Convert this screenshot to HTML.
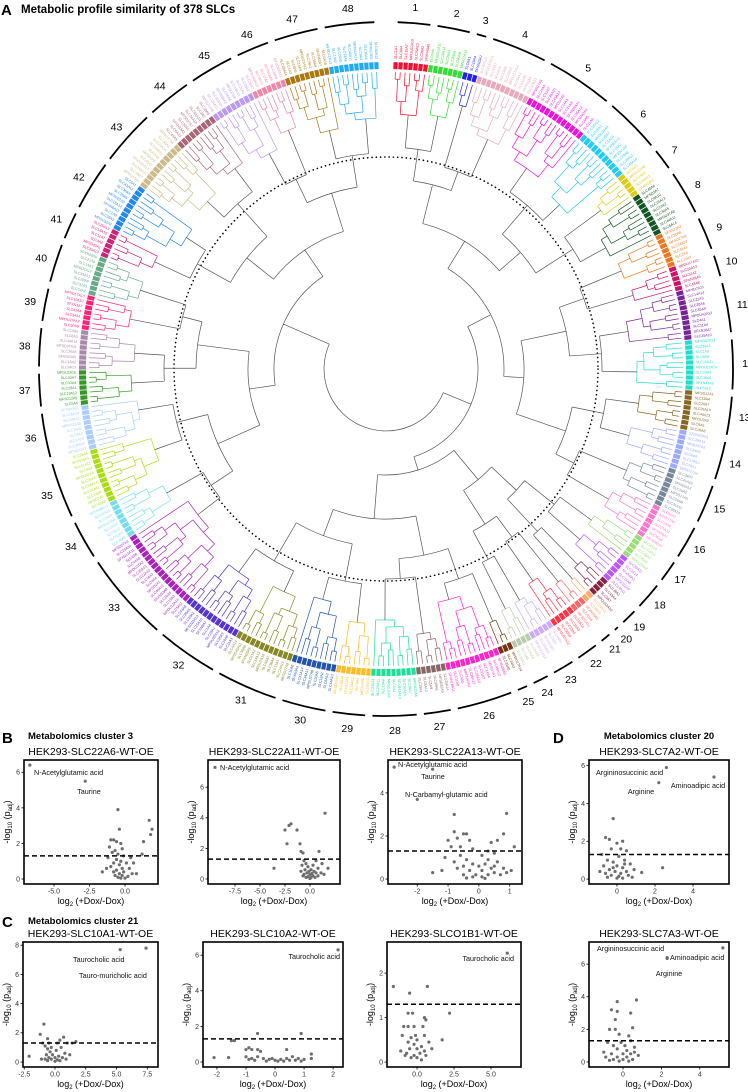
<!DOCTYPE html>
<html><head><meta charset="utf-8"><style>
html,body{margin:0;padding:0;background:#fff;}
svg{display:block;font-family:"Liberation Sans",Arial,sans-serif;}
</style></head><body>
<svg id="chart" xmlns="http://www.w3.org/2000/svg" width="748" height="1092" viewBox="0 0 748 1092">
<text x="1" y="15" font-size="15" font-weight="bold">A</text>
<text x="21" y="13" font-size="11.5" font-weight="bold">Metabolic profile similarity of 378 SLCs</text>
<g id="dendro"></g>
<text x="2" y="743" font-size="15" font-weight="bold">B</text>
<text x="28" y="739" font-size="9.5" font-weight="bold">Metabolomics cluster 3</text>
<text x="2" y="927" font-size="15" font-weight="bold">C</text>
<text x="28" y="924" font-size="9.5" font-weight="bold">Metabolomics cluster 21</text>
<text x="553" y="743" font-size="15" font-weight="bold">D</text>
<text x="659" y="739" font-size="9.5" font-weight="bold" text-anchor="middle">Metabolomics cluster 20</text>
<g id="plots"></g>
</svg>
<script>
// ---------- Dendrogram data ----------
const clusterSizes=[7,7,3,11,13,11,5,9,7,5,10,10,8,8,8,7,5,6,4,2,3,5,5,4,3,11,6,9,7,9,12,12,17,8,11,9,7,8,7,8,6,10,11,9,9,7,9,10];
const clusterColors=["#ee1133","#33dd33","#2222ee","#e8aabb","#ee11dd","#22ccee","#ddcc11","#115522","#ee7722","#cc1166","#772299","#22ddcc","#886622","#99aaff","#778899","#ff77cc","#99dd77","#bb55ff","#882244","#ffaa66","#ff6666","#ff3344","#ccaaff","#bbccaa","#773311","#ff22cc","#886666","#22dd99","#ffbb22","#2255aa","#888822","#5533cc","#aa22bb","#77ddee","#aadd11","#aaccff","#339922","#aa88aa","#ff2277","#66aa88","#cc2277","#2288ee","#ccbb88","#aa6677","#bb99ee","#ee88aa","#aa7711","#22aaee"];
const clusterLabels=clusterSizes.map((s,i)=>String(i+1));

// ---------- Volcano data ----------
const b1Points=[[-6.7,6.4],[-2.8,5.5],[-0.5,3.9],[-0.4,2.8],[1.7,3.3],[1.9,2.8],[1.8,2.5],[1.3,2.1],[1.2,1.4],[-1.0,2.2],[-0.8,2.2],[-0.6,2.1],[-0.3,2.0],[-1.1,1.8],[-0.7,1.6],[-0.2,1.7],[-0.9,1.5],[-0.5,1.4],[-0.1,1.3],[-1.2,1.2],[-0.6,1.1],[-0.3,1.0],[-0.8,0.9],[0.1,0.9],[-0.4,0.8],[-1.0,0.7],[-0.2,0.6],[0.3,0.6],[-0.6,0.5],[-0.1,0.4],[-0.8,0.4],[0.5,0.3],[-0.4,0.3],[-1.6,0.4],[-0.2,0.2],[0.2,0.15],[-0.5,0.1],[0.0,0.05],[-0.3,0.05],[0.8,0.3],[0.6,0.9],[-1.3,0.6],[-0.7,0.2],[0.4,1.2]];
const b2Points=[[-9.5,7.3],[1.5,4.3],[-2.5,3.2],[-2.1,3.5],[-1.9,3.6],[-1.3,3.2],[-2.3,2.3],[-1.0,2.3],[-0.9,1.8],[-0.7,1.7],[0.9,1.8],[-3.6,0.7],[-0.6,1.2],[0.6,1.2],[1.2,1.0],[-0.4,1.0],[-0.8,0.9],[0.3,0.9],[-0.2,0.8],[0.8,0.7],[-0.5,0.6],[0.1,0.6],[1.8,0.7],[-0.9,0.5],[0.4,0.5],[-0.3,0.4],[0.6,0.4],[1.1,0.4],[-0.6,0.3],[0.0,0.3],[0.3,0.2],[-0.2,0.15],[0.1,0.1],[-0.4,0.1],[0.5,0.1],[0.0,0.03],[-0.1,0.5],[0.2,0.35],[-0.7,0.2],[0.8,0.2],[1.4,0.3]];
const b3Points=[[-2.75,5.2],[-1.5,5.1],[-2.0,3.7],[-0.8,3.0],[0.9,3.05],[-0.8,2.2],[-0.5,2.1],[-0.4,2.1],[0.8,2.1],[-0.7,1.9],[-0.3,1.8],[0.4,1.7],[0.6,1.8],[-1.0,1.8],[1.15,1.5],[-0.9,1.5],[-0.6,1.5],[-0.2,1.4],[0.3,1.3],[-1.1,1.0],[-0.6,1.1],[0.1,1.1],[0.5,1.2],[-0.4,0.9],[0.3,0.9],[-0.8,0.8],[-0.2,0.7],[0.2,0.7],[0.6,0.8],[-0.5,0.6],[0.0,0.6],[0.4,0.5],[0.8,0.5],[-1.2,0.4],[-0.7,0.5],[-0.3,0.4],[0.1,0.4],[0.5,0.3],[0.9,0.3],[-0.5,0.2],[-0.1,0.2],[0.3,0.2],[0.7,0.2],[1.05,0.4],[-0.2,0.1],[0.1,0.1],[-0.4,0.05],[0.2,0.03],[-1.5,0.3],[0.5,0.6]];
const d1Points=[[2.6,5.9],[5.1,5.4],[2.2,5.1],[-0.2,3.2],[-0.6,2.2],[-0.4,2.1],[0.3,2.0],[0.0,1.9],[0.2,1.6],[-0.3,1.6],[0.5,1.5],[-0.8,1.3],[0.1,1.2],[-0.5,1.0],[0.4,1.0],[-0.2,0.9],[0.7,0.8],[-0.7,0.7],[0.0,0.7],[0.3,0.6],[-0.4,0.5],[0.9,0.5],[2.4,0.6],[-0.1,0.4],[0.5,0.4],[-0.6,0.3],[0.2,0.3],[1.3,0.35],[-0.3,0.2],[0.1,0.15],[0.6,0.2],[-0.5,0.1],[0.0,0.05],[0.3,0.05],[-0.9,0.4],[0.8,0.1],[-0.2,0.6],[0.4,0.8]];
const c1Points=[[5.3,7.7],[7.4,7.8],[-0.9,2.6],[-1.2,1.9],[-0.6,1.6],[0.7,1.7],[0.4,1.5],[-1.0,1.3],[-0.5,1.3],[0.2,1.3],[1.0,1.3],[1.4,1.3],[1.7,1.4],[-0.8,1.1],[-0.3,1.0],[0.5,1.0],[-0.6,0.9],[0.1,0.8],[-2.1,0.4],[-0.4,0.7],[0.8,0.6],[-0.7,0.5],[-0.2,0.5],[0.3,0.4],[1.2,0.5],[-0.5,0.3],[0.0,0.3],[0.6,0.3],[-1.1,0.2],[-0.3,0.2],[0.2,0.15],[-0.6,0.1],[0.0,0.05],[0.9,0.2],[-0.8,0.2],[0.4,0.1]];
const c2Points=[[2.17,6.3],[-0.6,1.6],[0.9,1.6],[-1.5,1.2],[-1.4,1.2],[-1.0,0.7],[-0.8,0.7],[-0.6,0.7],[-0.5,0.6],[-0.9,0.8],[0.4,0.7],[-2.1,0.25],[-1.6,0.25],[1.25,0.45],[1.25,0.2],[-1.0,0.3],[-0.8,0.2],[-0.6,0.3],[-0.4,0.2],[-0.2,0.15],[0.0,0.1],[0.2,0.15],[0.4,0.2],[0.6,0.3],[0.8,0.2],[1.0,0.15],[-0.7,0.1],[-0.3,0.05],[0.1,0.05],[0.3,0.05],[0.5,0.1],[-0.9,0.15],[0.7,0.1],[-0.1,0.2],[0.9,0.05]];
const c3Points=[[6.1,2.45],[-1.6,1.7],[-0.5,1.55],[0.7,1.7],[2.2,1.1],[1.7,0.5],[-0.6,1.1],[-0.3,1.1],[0.5,1.0],[0.6,0.95],[-0.9,0.8],[-0.6,0.8],[-0.2,0.8],[0.4,0.8],[0.5,0.6],[-1.0,0.6],[-0.4,0.55],[0.0,0.5],[0.8,0.45],[-0.6,0.45],[-0.2,0.4],[0.3,0.35],[-1.1,0.25],[-0.5,0.3],[0.0,0.3],[0.5,0.25],[-0.7,0.2],[-0.2,0.15],[0.2,0.2],[0.6,0.15],[-0.4,0.1],[0.0,0.1],[0.3,0.05],[-0.8,0.15],[1.0,0.3],[-0.1,0.6]];
const d2Points=[[2.3,6.4],[2.3,6.35],[5.2,7.0],[0.7,3.8],[-0.3,3.7],[-0.6,3.2],[-0.3,3.1],[0.4,3.0],[-0.4,2.6],[-0.7,2.0],[-0.4,2.0],[0.5,2.1],[-0.2,1.7],[0.3,1.6],[0.4,1.3],[-0.8,1.2],[-0.5,1.0],[0.1,1.0],[0.6,0.9],[-1.0,0.6],[-0.3,0.8],[0.2,0.7],[-0.6,0.5],[0.0,0.5],[0.4,0.5],[-0.9,0.3],[-0.3,0.3],[0.2,0.3],[0.8,0.4],[-0.5,0.15],[0.0,0.15],[0.5,0.15],[-0.2,0.05],[0.3,0.05],[-0.7,0.1],[0.6,0.6],[-0.1,1.2]];
const b1XTicks=[-5,-2.5,0], b1XTickLabels=["-5.0","-2.5","0.0"], b1YTicks=[0,2,4,6];
const b2XTicks=[-7.5,-5,-2.5,0], b2XTickLabels=["-7.5","-5.0","-2.5","0.0"], b2YTicks=[0,2,4,6];
const b3XTicks=[-2,-1,0,1], b3XTickLabels=["-2","-1","0","1"], b3YTicks=[0,2,4];
const d1XTicks=[0,2,4], d1XTickLabels=["0","2","4"], d1YTicks=[0,2,4,6];
const c1XTicks=[-2.5,0,2.5,5,7.5], c1XTickLabels=["-2.5","0.0","2.5","5.0","7.5"], c1YTicks=[0,2,4,6,8];
const c2XTicks=[-2,-1,0,1,2], c2XTickLabels=["-2","-1","0","1","2"], c2YTicks=[0,2,4,6];
const c3XTicks=[0,2.5,5], c3XTickLabels=["0.0","2.5","5.0"], c3YTicks=[0,1,2];
const d2XTicks=[0,2,4], d2XTickLabels=["0","2","4"], d2YTicks=[0,2,4,6];
const sigThreshold=1.3;

const NS="http://www.w3.org/2000/svg";
function mk(tag,attrs,parent){const e=document.createElementNS(NS,tag);for(const k in attrs)e.setAttribute(k,attrs[k]);parent.appendChild(e);return e;}

// ---------- Draw dendrogram ----------
const dg=document.getElementById("dendro");
const CX=386,CY=369,RLEAF=297,RRING=303.5,RARC=347,RLAB=362,RDOT=212;
const N=clusterSizes.reduce((a,b)=>a+b,0);
const A0=1.8,A1=358.2,STEP=(A1-A0)/(N-1);
function pt(r,a){const t=a*Math.PI/180;return [CX+r*Math.sin(t),CY-r*Math.cos(t)];}
function f(v){return v.toFixed(2);}
function arcD(r,a1,a2){const p1=pt(r,a1),p2=pt(r,a2);const lg=(a2-a1)>180?1:0;return "M"+f(p1[0])+","+f(p1[1])+"A"+r+","+r+" 0 "+lg+" 1 "+f(p2[0])+","+f(p2[1]);}
function radD(a,r1,r2){const p1=pt(r1,a),p2=pt(r2,a);return "M"+f(p1[0])+","+f(p1[1])+"L"+f(p2[0])+","+f(p2[1]);}

const dot=mk("circle",{cx:CX,cy:CY,r:RDOT,fill:"none",stroke:"#000","stroke-width":1.6,"stroke-dasharray":"0.1 4.2","stroke-linecap":"round"},dg);



const roots=[];
let leafIdx=0;
const prefixes=["SLC","SLC","SLC","MPDU","SLC","SLC","SFXN","SLC","MFSD","SLC"];
for(let c=0;c<clusterSizes.length;c++){
  const col=clusterColors[c];
  const g=mk("g",{},dg);
  
  
  let nodes=[];
  let ringD="";
  const first=leafIdx;
  for(let k=0;k<clusterSizes[c];k++){
    const a=A0+leafIdx*STEP;
    nodes.push({a:a,r:RLEAF});
    ringD+=arcD(RRING,a-STEP*0.42,a+STEP*0.42);
    const lab=mk("text",{x:0,y:0,"font-size":3.6,fill:col},g);
    
    
    const p=pt(310,a);
    const nm=prefixes[leafIdx%10]+(1+(leafIdx*7)%45)+"A"+(1+(leafIdx*3)%14);
    lab.textContent=nm;
    if(a<180){lab.setAttribute("transform","translate("+f(p[0])+","+f(p[1])+") rotate("+f(a-90)+")");lab.setAttribute("dominant-baseline","middle");}
    else{lab.setAttribute("transform","translate("+f(p[0])+","+f(p[1])+") rotate("+f(a+90)+")");lab.setAttribute("text-anchor","end");lab.setAttribute("dominant-baseline","middle");}
    leafIdx++;
  }
  const ring=mk("path",{d:ringD,fill:"none",stroke:col,"stroke-width":7},g);
  
  
  let d="";let L=0;
  while(nodes.length>1){
    const nx=[];
    for(let i=0;i<nodes.length;i+=2){
      if(i+1>=nodes.length){nx.push(nodes[i]);continue;}
      const n1=nodes[i],n2=nodes[i+1];
      const dec=7+((c*5+L*3+i)%4)*3;
      const r=Math.min(n1.r,n2.r)-dec;
      d+=radD(n1.a,n1.r,r)+radD(n2.a,n2.r,r)+arcD(r,n1.a,n2.a);
      nx.push({a:(n1.a+n2.a)/2,r:r});
    }
    nodes=nx;L++;
  }
  const br=mk("path",{d:d,fill:"none",stroke:col,"stroke-width":0.7},g);
  
  
  roots.push(nodes[0]);
  const aS=A0+first*STEP-STEP*0.5+0.6, aE=A0+(leafIdx-1)*STEP+STEP*0.5-0.6;
  const oa=mk("path",{d:arcD(RARC,aS,aE),fill:"none",stroke:"#000","stroke-width":1.8},g);
  
  
  const am=(aS+aE)/2, lp=pt(RLAB,am);
  const tl=mk("text",{x:f(lp[0]),y:f(lp[1]),"font-size":10.5,"text-anchor":"middle","dominant-baseline":"central"},g);
  
  
  tl.textContent=clusterLabels[c];
}
const levelR=[222,190,150,118,92,62];
let nodes=roots.slice();let L=0;let d="";
while(nodes.length>1){
  const nx=[];
  for(let i=0;i<nodes.length;i+=2){
    if(i+1>=nodes.length){nx.push(nodes[i]);continue;}
    const n1=nodes[i],n2=nodes[i+1];
    const r=Math.min(levelR[Math.min(L,levelR.length-1)]-((i*7)%3)*6,Math.min(n1.r,n2.r)-6);
    d+=radD(n1.a,n1.r,r)+radD(n2.a,n2.r,r)+arcD(r,n1.a,n2.a);
    nx.push({a:(n1.a+n2.a)/2,r:r});
  }
  nodes=nx;L++;
}
const ut=mk("path",{d:d,fill:"none",stroke:"#555","stroke-width":0.7},dg);



// ---------- Volcano plots ----------
const pg=document.getElementById("plots");
function volcano(o){
  const g=mk("g",{},pg);
  
  
  const sx=v=>o.x0+(v-o.xd[0])/(o.xd[1]-o.xd[0])*(o.x1-o.x0);
  const sy=v=>o.y1-(v-o.yd[0])/(o.yd[1]-o.yd[0])*(o.y1-o.y0);
  const t=mk("text",{x:(o.x0+o.x1)/2,y:o.y0-5,"font-size":10.5,"text-anchor":"middle"},g);
  
  
  t.textContent=o.title;
  o.pts.forEach(p=>{
    const c=mk("circle",{cx:f(sx(p[0])),cy:f(sy(p[1])),r:1.6,fill:"#6e6e6e"},g);
    
    
  });
  const th=mk("line",{x1:o.x0,x2:o.x1,y1:f(sy(sigThreshold)),y2:f(sy(sigThreshold)),stroke:"#000","stroke-width":1.5,"stroke-dasharray":"5 3"},g);
  
  
  const bx=mk("rect",{x:o.x0,y:o.y0,width:o.x1-o.x0,height:o.y1-o.y0,fill:"none",stroke:"#000","stroke-width":1.6},g);
  
  
  o.xt.forEach((v,i)=>{
    const X=sx(v);
    const tk=mk("line",{x1:f(X),x2:f(X),y1:o.y1,y2:o.y1+2.5,stroke:"#000","stroke-width":0.8},g);
    
    
    const tx=mk("text",{x:f(X),y:o.y1+9.5,"font-size":7,"text-anchor":"middle",fill:"#333"},g);
    
    
    tx.textContent=o.xtl[i];
  });
  o.yt.forEach(v=>{
    const Y=sy(v);
    const tk=mk("line",{x1:o.x0-2.5,x2:o.x0,y1:f(Y),y2:f(Y),stroke:"#000","stroke-width":0.8},g);
    
    
    const ty=mk("text",{x:o.x0-4,y:f(Y+2.4),"font-size":7,"text-anchor":"end",fill:"#333"},g);
    
    
    ty.textContent=String(v);
  });
  const xa=mk("text",{x:(o.x0+o.x1)/2,y:o.y1+20,"font-size":9,"text-anchor":"middle"},g);
  
  
  xa.innerHTML='log<tspan font-size="6" dy="2">2</tspan><tspan dy="-2"> (+Dox/-Dox)</tspan>';
  const yx=o.x0-14, yy=(o.y0+o.y1)/2;
  const ya=mk("text",{x:yx,y:yy,"font-size":9,"text-anchor":"middle",transform:"rotate(-90 "+yx+" "+yy+")"},g);
  
  
  ya.innerHTML='-log<tspan font-size="6" dy="2">10</tspan><tspan dy="-2"> (p</tspan><tspan font-size="6" dy="2">adj</tspan><tspan dy="-2">)</tspan>';
  o.ann.forEach(a=>{
    const at=mk("text",{x:a[1],y:a[2],"font-size":7.2,"text-anchor":a[3],fill:"#111"},g);
    
    
    at.textContent=a[0];
  });
}
volcano({name:"volcano-slc22a6",title:"HEK293-SLC22A6-WT-OE",x0:24,x1:158,y0:760,y1:884,xd:[-7.11,2.32],yd:[-0.28,6.69],xt:b1XTicks,xtl:b1XTickLabels,yt:b1YTicks,pts:b1Points,
  ann:[["N-Acetylglutamic acid",34,775,"start"],["Taurine",89,794,"middle"]]});
volcano({name:"volcano-slc22a11",title:"HEK293-SLC22A11-WT-OE",x0:208,x1:340,y0:760,y1:884,xd:[-10.2,3.0],yd:[-0.33,7.78],xt:b2XTicks,xtl:b2XTickLabels,yt:b2YTicks,pts:b2Points,
  ann:[["N-Acetylglutamic acid",220,770,"start"]]});
volcano({name:"volcano-slc22a13",title:"HEK293-SLC22A13-WT-OE",x0:388,x1:522,y0:760,y1:884,xd:[-2.95,1.40],yd:[-0.23,5.53],xt:b3XTicks,xtl:b3XTickLabels,yt:b3YTicks,pts:b3Points,
  ann:[["N-Acetylglutamic acid",398,767,"start"],["Taurine",433,779,"middle"],["N-Carbamyl-glutamic acid",405,797,"start"]]});
volcano({name:"volcano-slc7a2",title:"HEK293-SLC7A2-WT-OE",x0:589,x1:729,y0:760,y1:884,xd:[-1.47,5.89],yd:[-0.26,6.3],xt:d1XTicks,xtl:d1XTickLabels,yt:d1YTicks,pts:d1Points,
  ann:[["Argininosuccinic acid",596,775,"start"],["Arginine",641,794,"middle"],["Aminoadipic acid",698,788,"middle"]]});
volcano({name:"volcano-slc10a1",title:"HEK293-SLC10A1-WT-OE",x0:23,x1:158,y0:942,y1:1067,xd:[-2.6,8.37],yd:[-0.34,8.22],xt:c1XTicks,xtl:c1XTickLabels,yt:c1YTicks,pts:c1Points,
  ann:[["Taurocholic acid",73,962,"start"],["Tauro-muricholic acid",79,978,"start"]]});
volcano({name:"volcano-slc10a2",title:"HEK293-SLC10A2-WT-OE",x0:203,x1:343,y0:942,y1:1067,xd:[-2.48,2.34],yd:[-0.28,6.74],xt:c2XTicks,xtl:c2XTickLabels,yt:c2YTicks,pts:c2Points,
  ann:[["Taurocholic acid",340,959,"end"]]});
volcano({name:"volcano-slco1b1",title:"HEK293-SLCO1B1-WT-OE",x0:387,x1:521,y0:942,y1:1067,xd:[-2.03,7.03],yd:[-0.11,2.7],xt:c3XTicks,xtl:c3XTickLabels,yt:c3YTicks,pts:c3Points,
  ann:[["Taurocholic acid",514,961,"end"]]});
volcano({name:"volcano-slc7a3",title:"HEK293-SLC7A3-WT-OE",x0:589,x1:729,y0:942,y1:1067,xd:[-1.77,5.52],yd:[-0.31,7.36],xt:d2XTicks,xtl:d2XTickLabels,yt:d2YTicks,pts:d2Points,
  ann:[["Argininosuccinic acid",597,951,"start"],["Aminoadipic acid",670,960,"start"],["Arginine",669,976,"middle"]]});
</script>
</body></html>
